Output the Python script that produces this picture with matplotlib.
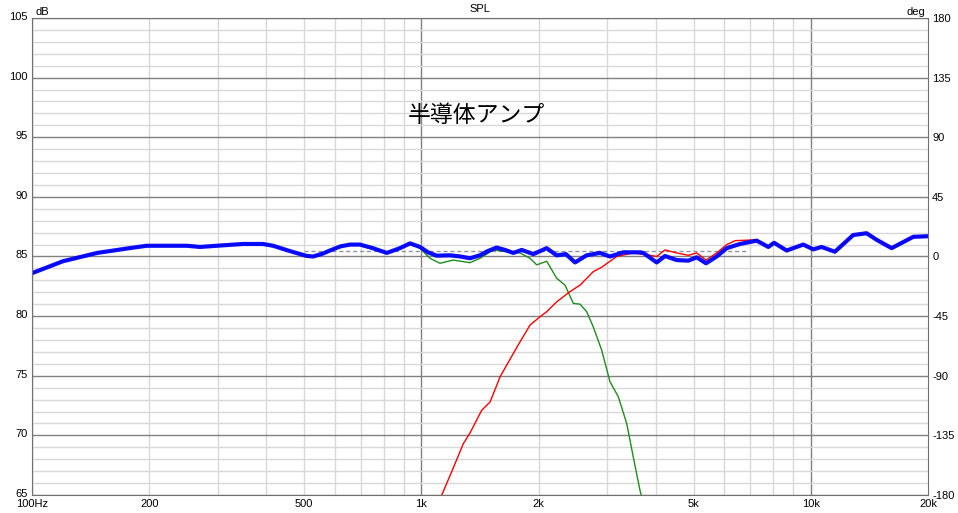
import matplotlib
matplotlib.use("Agg")
import matplotlib.pyplot as plt
import matplotlib.transforms as mtransforms
from matplotlib.ticker import FixedLocator, NullFormatter

# frequency response (Hz, dB)
low_freq = [100, 120, 147, 178, 197, 226, 250, 270, 298, 348, 392, 416, 460,
            507, 527, 559, 582, 620, 656, 695, 750, 815, 881, 935]
low_db = [83.6, 84.6, 85.3, 85.7, 85.9, 85.9, 85.9, 85.8, 85.9, 86.05, 86.05, 85.9, 85.45,
          85.05, 85.0, 85.25, 85.5, 85.85, 86.0, 86.0, 85.7, 85.3, 85.7, 86.1]

sum_freq = [992, 1040, 1094, 1185, 1260, 1333, 1413, 1480, 1560, 1640, 1722, 1810,
            1939, 2097, 2225, 2350, 2481, 2657, 2875, 3050, 3300, 3640, 3715,
            4020, 4223, 4524, 4847, 5094, 5383, 5733, 6084, 6580, 7262]
sum_db = [85.8, 85.35, 85.07, 85.1, 85.0, 84.85, 85.1, 85.45, 85.75, 85.55, 85.3, 85.55,
          85.2, 85.7, 85.1, 85.2, 84.5, 85.1, 85.3, 85.0, 85.35, 85.35, 85.3,
          84.5, 85.04, 84.7, 84.65, 84.93, 84.43, 85.0, 85.7, 86.05, 86.33]

high_freq = [7780, 8047, 8670, 9565, 10150, 10660, 11530, 12850, 13910, 14760,
             16130, 18330, 20000]
high_db = [85.8, 86.15, 85.5, 86.0, 85.6, 85.8, 85.4, 86.8, 86.95, 86.4,
           85.7, 86.65, 86.7]

woofer_freq = [992, 1052, 1116, 1207, 1333, 1414, 1530, 1656, 1791, 1901, 1978, 2098,
               2226, 2338, 2455, 2555, 2658, 2763, 2904, 3050, 3203, 3367, 3500, 3642, 3700]
woofer_db = [85.7, 84.85, 84.43, 84.7, 84.48, 84.85, 85.55, 85.4, 85.3, 84.85, 84.3, 84.6,
             83.17, 82.6, 81.07, 81.0, 80.37, 79.1, 77.15, 74.5, 73.25, 71.0, 68.2, 65.4, 64.5]

tweeter_freq = [1110, 1128, 1196, 1281, 1333, 1428, 1501, 1592, 1673, 1774, 1901, 2017,
                2098, 2226, 2407, 2555, 2763, 2904, 3173, 3500, 3865, 4020, 4223, 4524,
                4847, 5094, 5383, 5733, 6084, 6400, 7262]
tweeter_db = [64.5, 65.0, 66.95, 69.3, 70.2, 72.1, 72.8, 74.9, 76.15, 77.6, 79.25, 79.95,
              80.37, 81.2, 82.05, 82.6, 83.73, 84.1, 85.0, 85.3, 85.1, 85.0, 85.55, 85.3,
              85.1, 85.3, 84.7, 85.3, 86.0, 86.33, 86.4]

ref_level = 85.45
ref_range = [500, 6900]

xticks = [100, 200, 500, 1000, 2000, 5000, 10000, 20000]
xlabels = ["100Hz", "200", "500", "1k", "2k", "5k", "10k", "20k"]
deg_ticks = [-180, -135, -90, -45, 0, 45, 90, 135, 180]

plt.rcParams["font.family"] = ["Liberation Sans", "DejaVu Sans"]
plt.rcParams["axes.unicode_minus"] = False
FS = 8

fig = plt.figure(figsize=(9.58, 5.13), dpi=100)
ax = fig.add_axes([32 / 958, 18 / 513, 896 / 958, 477 / 513])

ax.set_xscale("log")
ax.set_xlim(100, 20000)
ax.set_ylim(65, 105)

major_col = "#808080"
minor_col = "#d8d8d8"
ax.xaxis.set_major_locator(FixedLocator([100, 1000, 10000]))
ax.xaxis.set_minor_locator(FixedLocator([m * d for d in (100, 1000) for m in range(2, 10)]))
ax.yaxis.set_major_locator(FixedLocator(range(65, 106, 5)))
ax.yaxis.set_minor_locator(FixedLocator(range(65, 106)))
ax.xaxis.set_major_formatter(NullFormatter())
ax.xaxis.set_minor_formatter(NullFormatter())
ax.grid(which="minor", color=minor_col, lw=1.0)
ax.grid(which="major", color=major_col, lw=1.0)
ax.set_axisbelow(True)
ax.tick_params(which="both", length=0, labelsize=FS, pad=3)
for s in ax.spines.values():
    s.set_color("#707070")

# nudge the dB labels up a little like the original
shift = mtransforms.ScaledTranslation(0, 2 / 100, fig.dpi_scale_trans)
for lab in ax.get_yticklabels():
    lab.set_transform(lab.get_transform() + shift)

for f, lab in zip(xticks, xlabels):
    ax.text(f, -0.008, lab, transform=ax.get_xaxis_transform(), ha="center", va="top", fontsize=FS)

ax.plot(ref_range, [ref_level, ref_level], color="#8a94a8", lw=1.0, ls=(0, (3, 2)))
ax.plot(low_freq + woofer_freq, low_db + woofer_db, color="#1e8c1e", lw=1.0)
ax.plot(tweeter_freq + high_freq, tweeter_db + high_db, color="#ff0000", lw=1.0)
ax.plot(low_freq + sum_freq + high_freq, low_db + sum_db + high_db,
        color="#0000ff", lw=3.0, alpha=0.95, solid_capstyle="round", solid_joinstyle="round")

ax.text(920, 96.8, "半導体アンプ", fontsize=16.5, ha="left", va="center",
        family=["Noto Sans CJK JP", "DejaVu Sans"])

ax2 = ax.twinx()
ax2.set_ylim(-180, 180)
ax2.set_yticks(deg_ticks)
ax2.tick_params(length=0, labelsize=FS, pad=3)
for s in ax2.spines.values():
    s.set_visible(False)

ax.text(0.004, 1.003, "dB", transform=ax.transAxes, ha="left", va="bottom", fontsize=FS)
ax.text(0.997, 1.003, "deg", transform=ax.transAxes, ha="right", va="bottom", fontsize=FS)
ax.text(0.5, 1.008, "SPL", transform=ax.transAxes, ha="center", va="bottom", fontsize=FS)

fig.savefig("out.png", dpi=100)
